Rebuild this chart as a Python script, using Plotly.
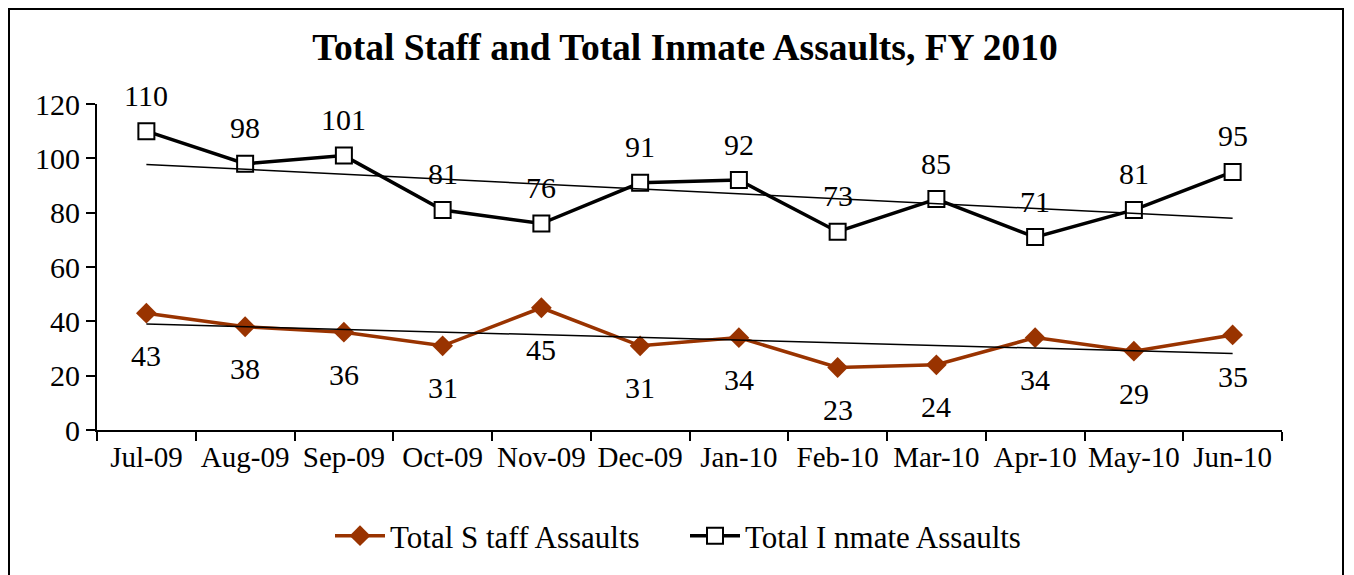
import numpy as np
import plotly.graph_objects as go

months = ["Jul-09", "Aug-09", "Sep-09", "Oct-09", "Nov-09", "Dec-09",
          "Jan-10", "Feb-10", "Mar-10", "Apr-10", "May-10", "Jun-10"]
staff = [43, 38, 36, 31, 45, 31, 34, 23, 24, 34, 29, 35]
inmate = [110, 98, 101, 81, 76, 91, 92, 73, 85, 71, 81, 95]

FONT = "Liberation Serif"
BROWN = "#993300"

idx = np.arange(len(months))
staff_fit = np.polyval(np.polyfit(idx, staff, 1), idx)
inmate_fit = np.polyval(np.polyfit(idx, inmate, 1), idx)

fig = go.Figure()
fig.add_trace(go.Scatter(x=months, y=staff, mode="lines+markers", name="Total S taff Assaults",
                         line=dict(color=BROWN, width=3.5),
                         marker=dict(symbol="diamond", size=16, color=BROWN)))
fig.add_trace(go.Scatter(x=months, y=inmate, mode="lines+markers", name="Total I nmate Assaults",
                         line=dict(color="black", width=3.5),
                         marker=dict(symbol="square", size=16, color="white",
                                     line=dict(color="black", width=2))))
fig.add_trace(go.Scatter(x=months, y=staff_fit, mode="lines", showlegend=False,
                         line=dict(color="black", width=1.5), hoverinfo="skip"))
fig.add_trace(go.Scatter(x=months, y=inmate_fit, mode="lines", showlegend=False,
                         line=dict(color="black", width=1.5), hoverinfo="skip"))

for m, v in zip(months, inmate):
    fig.add_annotation(x=m, y=v, text=str(v), showarrow=False, yshift=36,
                       font=dict(family=FONT, size=30, color="black"))
for m, v in zip(months, staff):
    fig.add_annotation(x=m, y=v, text=str(v), showarrow=False, yshift=-42,
                       font=dict(family=FONT, size=30, color="black"))

# page has 8px body margin; figure coordinates = page - 8
OFF = 8
L, T = 97 - OFF, 104 - OFF
W, H = 1354, 575
pw, ph = 1185, 326
R = W - L - pw
B = H - T - ph
def px(x): return (x - OFF - L) / pw
def py(y): return (T + ph - (y - OFF)) / ph

fig.add_shape(type="rect", xref="paper", yref="paper",
              x0=px(9), x1=px(1343), y0=py(9), y1=py(600),
              line=dict(color="black", width=2))

fig.update_layout(
    width=W, height=H,
    margin=dict(l=L, r=R, t=T, b=B),
    paper_bgcolor="white", plot_bgcolor="white",
    title=dict(text="<b>Total Staff and Total Inmate Assaults, FY 2010</b>",
               x=0.5, xanchor="center", y=1 - (47 - OFF) / H, yanchor="middle",
               font=dict(family=FONT, size=37.5, color="black")),
    font=dict(family=FONT, size=30, color="black"),
    showlegend=True,
    legend=dict(orientation="h", x=px(330), xanchor="left", y=py(536), yanchor="middle",
                entrywidth=290, entrywidthmode="pixels", itemwidth=50,
                font=dict(family=FONT, size=31, color="black")),
    xaxis=dict(showline=True, linecolor="black", linewidth=2, ticks="outside",
               tickson="boundaries", ticklen=9, tickwidth=2, tickcolor="black",
               tickangle=0, showgrid=False, tickfont=dict(family=FONT, size=29),
               range=[-0.5, 11.5]),
    yaxis=dict(showline=True, linecolor="black", linewidth=2, ticks="outside",
               ticklen=9, tickwidth=2, tickcolor="black", range=[0, 120], dtick=20,
               showgrid=False, zeroline=False, tickfont=dict(family=FONT, size=30)),
)

fig.write_html("out.html")
